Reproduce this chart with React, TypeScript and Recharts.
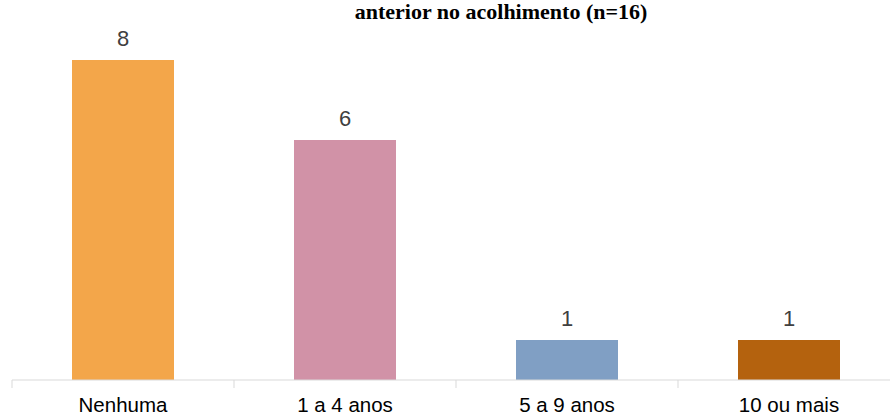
import React from 'react';
import { BarChart, Bar, XAxis, YAxis, Cell, LabelList } from 'recharts';

const categories = ['Nenhuma', '1 a 4 anos', '5 a 9 anos', '10 ou mais'];
const counts = [8, 6, 1, 1];
const barColors = ['#F3A64A', '#D192A7', '#809FC4', '#B4620E'];
const titleText = 'anterior no acolhimento (n=16)';

const data = categories.map((c, i) => ({ category: c, count: counts[i] }));

const HALF_BAND = 111;

function CategoryTick(props: any) {
  const { x, y, payload } = props;
  return (
    <g>
      <line x1={x - HALF_BAND} y1={y} x2={x - HALF_BAND} y2={y + 8} stroke="#d9d9d9" strokeWidth={1} />
      <text x={x} y={y + 32} textAnchor="middle" fill="#000" fontSize={20.5} fontFamily="'Liberation Sans', Arial, sans-serif">
        {payload.value}
      </text>
    </g>
  );
}

export default function App() {
  return (
    <div style={{ position: 'absolute', left: 0, top: 0, width: 890, height: 416, overflow: 'hidden', background: '#fff' }}>
      <div
        style={{
          position: 'absolute',
          left: 501,
          top: 0,
          transform: 'translateX(-50%)',
          whiteSpace: 'nowrap',
          fontFamily: "'Liberation Serif', 'Times New Roman', serif",
          fontWeight: 'bold',
          fontSize: 22,
          lineHeight: '24px',
          color: '#000',
        }}
      >
        {titleText}
      </div>
      <BarChart width={900} height={416} data={data} margin={{ top: 20, right: 0, left: 12, bottom: 6 }} barCategoryGap={0}>
        <XAxis
          dataKey="category"
          height={30}
          tickLine={false}
          tickSize={0}
          tickMargin={0}
          axisLine={{ stroke: '#d9d9d9', strokeWidth: 1 }}
          tick={<CategoryTick />}
          interval={0}
        />
        <YAxis hide domain={[0, 9]} />
        <Bar dataKey="count" barSize={102} isAnimationActive={false}>
          {data.map((d, i) => (
            <Cell key={d.category} fill={barColors[i]} />
          ))}
          <LabelList dataKey="count" position="top" offset={14} fill="#404040" fontSize={22} fontFamily="'Liberation Sans', Arial, sans-serif" />
        </Bar>
      </BarChart>
    </div>
  );
}
